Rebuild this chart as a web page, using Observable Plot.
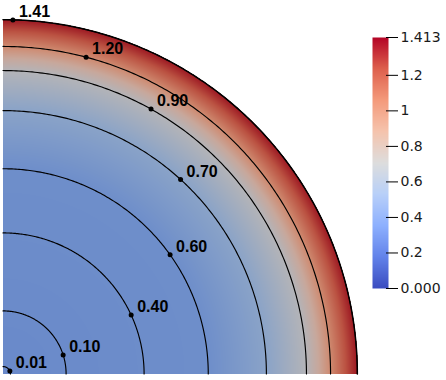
<!DOCTYPE html>
<html><head><meta charset="utf-8">
<script src="https://cdn.jsdelivr.net/npm/d3@7"></script>
<script src="https://cdn.jsdelivr.net/npm/@observablehq/plot@0.6"></script>
<style>
html,body{margin:0;padding:0;background:#fff;}
#wrap{position:relative;width:446px;height:380px;overflow:hidden;}
#wrap svg{position:absolute;top:0;}
</style></head><body><div id="wrap"></div>
<script>
// Contour levels and the radius (fraction of the disk radius) where each is read
const contourLevels = [0.01, 0.10, 0.40, 0.60, 0.70, 0.90, 1.20, 1.41];
const contourRadii  = [0.021, 0.178, 0.398, 0.579, 0.743, 0.856, 0.924, 0.999];
// Angle (degrees from the horizontal axis) where each contour is labeled
const labelAngles = [23, 17.6, 24.7, 35.5, 47.6, 60.8, 75.3, 88.4];
const labelTexts  = ["0.01", "0.10", "0.40", "0.60", "0.70", "0.90", "1.20", "1.41"];
// Radial profile of the field
const profileRadii  = [0, ...contourRadii, 1.0];
const profileValues = [0, ...contourLevels, 1.413];
// Colorbar
const valueMin = 0, valueMax = 1.413;
const colorbarTicks = [0, 0.2, 0.4, 0.6, 0.8, 1, 1.2, 1.413];

const profile = d3.scaleLinear(profileRadii, profileValues).clamp(true);
const field = (x, y) => { const r = Math.hypot(x, y); return r <= 1 ? profile(r) : NaN; };

const arcs = [];
[...contourRadii, 1.0].forEach((rr, i) => {
  for (let a = 0; a <= 90; a += 0.5) {
    const t = a * Math.PI / 180;
    arcs.push({x: rr * Math.cos(t), y: rr * Math.sin(t), k: i});
  }
});
const labels = contourLevels.map((lv, i) => {
  const t = labelAngles[i] * Math.PI / 180;
  return {x: contourRadii[i] * Math.cos(t), y: contourRadii[i] * Math.sin(t), text: labelTexts[i]};
});

const main = Plot.plot({
  width: 446, height: 380,
  marginTop: 0, marginRight: 0, marginBottom: 0, marginLeft: 0,
  x: {domain: [0, 1], range: [2.5, 357], axis: null},
  y: {domain: [0, 1], range: [373.5, 19], axis: null},
  color: {
    type: "linear",
    domain: [0, 0.6, 0.7, 0.9, 1.05, 1.2, 1.32, 1.413],
    range: ["#6a8aca", "#6e8eca", "#8aa3c8", "#b4b4b8", "#c8a89c", "#cf8a70", "#bb5242", "#9c1822"],
    interpolate: "rgb"
  },
  style: {background: "transparent"},
  marks: [
    Plot.raster({fill: field, x1: 0, y1: 0, x2: 1, y2: 1, width: 355, height: 355}),
    Plot.line(arcs, {x: "x", y: "y", z: "k", stroke: "#000", strokeWidth: 1.15}),
    Plot.dot(labels, {x: "x", y: "y", r: 2.5, fill: "#000", stroke: "none"}),
    Plot.text(labels, {x: "x", y: "y", text: "text", dx: 6, dy: -8, textAnchor: "start",
      fontWeight: "bold", fontSize: 16, fontFamily: "Liberation Sans, Arial, sans-serif", fill: "#000"})
  ]
});
main.style.left = "0px";

const fmt = d => d === valueMin ? valueMin.toFixed(3) : d === valueMax ? valueMax.toFixed(3) : String(d);
const legend = Plot.plot({
  width: 82, height: 380,
  marginTop: 37, marginBottom: 92, marginLeft: 8, marginRight: 61,
  x: {domain: [0, 1], range: [8, 24], axis: null},
  y: {domain: [valueMin, valueMax], axis: null},
  color: {
    type: "linear",
    domain: d3.range(9).map(i => valueMin + (valueMax - valueMin) * i / 8),
    range: ["rgb(59,76,192)", "rgb(98,130,234)", "rgb(141,176,254)", "rgb(184,208,249)", "rgb(221,221,221)",
            "rgb(245,196,173)", "rgb(244,154,123)", "rgb(222,96,77)", "rgb(180,4,38)"],
    interpolate: "rgb"
  },
  style: {background: "transparent", color: "#1a1a1a"},
  marks: [
    Plot.raster({fill: (x, y) => y, x1: 0, x2: 1, y1: valueMin, y2: valueMax, width: 16, height: 251}),
    Plot.axisY(colorbarTicks, {anchor: "right", tickSize: 12, tickPadding: 3, tickFormat: fmt,
      fontSize: 14, fontFamily: "DejaVu Sans, sans-serif", stroke: "#000"})
  ]
});
legend.style.left = "364px";

document.getElementById("wrap").append(main, legend);
</script></body></html>
